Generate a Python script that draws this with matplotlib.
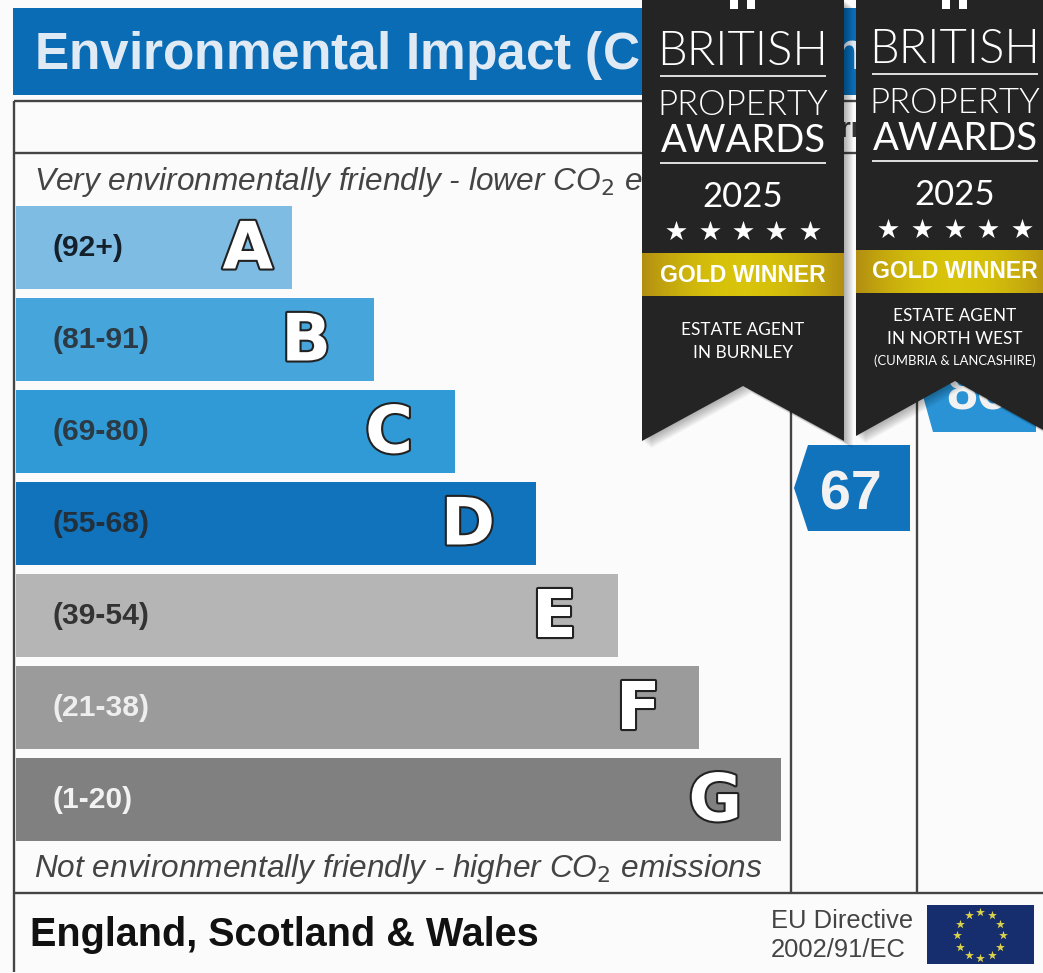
import numpy as np
import matplotlib
matplotlib.use("Agg")
import matplotlib.pyplot as plt
from matplotlib.patches import Rectangle, Polygon
import matplotlib.patheffects as pe

W, H = 1043, 973
bands = ["A", "B", "C", "D", "E", "F", "G"]
ranges = ["(92+)", "(81-91)", "(69-80)", "(55-68)", "(39-54)", "(21-38)", "(1-20)"]
bar_ends = [292, 374, 455, 536, 618, 699, 781]
bar_colors = ["#7fbce3", "#46a6dc", "#2f9ad6", "#1273bd", "#b5b5b5", "#9b9b9b", "#808080"]
range_colors = ["#14202c", "#2b3a44", "#2b3a44", "#22303c", "#333333", "#eeeeee", "#f2f2f2"]
current = 67
potential = 86
column_label = "Current"
badge1 = ["BRITISH", "PROPERTY", "AWARDS", "2025", "GOLD WINNER", "ESTATE AGENT", "IN BURNLEY"]
badge2 = ["BRITISH", "PROPERTY", "AWARDS", "2025", "GOLD WINNER", "ESTATE AGENT", "IN NORTH WEST", "(CUMBRIA & LANCASHIRE)"]

plt.rcParams["font.family"] = ["Liberation Sans", "DejaVu Sans"]
fig = plt.figure(figsize=(W/100, H/100), dpi=100, facecolor="#fbfbfb")
ax = fig.add_axes([0, 0, 1, 1])
ax.set_xlim(0, W); ax.set_ylim(H, 0); ax.axis("off")

def rect(x0, y0, x1, y1, c, z=1, **k):
    ax.add_patch(Rectangle((x0, y0), x1-x0, y1-y0, fc=c, ec="none", zorder=z, **k))
def line(x0, y0, x1, y1, c="#444444", lw=1.7, z=2):
    ax.plot([x0, x1], [y0, y1], color=c, lw=lw, zorder=z, solid_capstyle="butt")

# header and frame
rect(13, 8, 1043, 95, "#0a6cb5")
ax.text(34, 55, "Environmental Impact (CO$_2$) Rating", color="#dfeaf5", fontsize=37, fontweight="bold", va="center", ha="left", zorder=3)
line(14, 101, 1043, 101)
line(14, 153, 1043, 153)
line(14, 101, 14, 972)
line(14, 893, 1043, 893)
line(791, 101, 791, 893)
line(917, 101, 917, 893)
ax.text(854, 130, column_label, color="#333333", fontsize=20, fontweight="bold", ha="center", va="center", zorder=3)

ax.text(34, 182, "Very environmentally friendly - lower CO$_2$ emissions", style="italic", color="#444444", fontsize=22.8, va="center", zorder=3)
ax.text(34, 869, "Not environmentally friendly - higher CO$_2$ emissions", style="italic", color="#444444", fontsize=22.8, va="center", zorder=3)

# bars
tops = [206, 298, 390, 482, 574, 666, 758]
insets = [19, 43, 42, 41, 41, 38, 39]
for i, b in enumerate(bands):
    y0 = tops[i]; y1 = y0 + 83
    rect(16, y0, bar_ends[i], y1, bar_colors[i])
    ax.text(53, (y0+y1)/2+1, ranges[i], color=range_colors[i], fontsize=21.6, fontweight="bold", va="center", zorder=3)
    ax.text(bar_ends[i]-insets[i], (y0+y1)/2+3, b, color="white", fontsize=47, fontweight="bold", family="DejaVu Sans",
            va="center", ha="right", zorder=3, path_effects=[pe.withStroke(linewidth=3, foreground="#222222")])

# current rating arrow
ax.add_patch(Polygon([(794, 488), (808, 445), (910, 445), (910, 531), (808, 531)], fc="#1273bd", ec="none", zorder=3))
ax.text(851, 495, str(current), color="#f2f2f2", fontsize=40, fontweight="bold", ha="center", va="center", zorder=4)
# potential arrow (mostly hidden)
ax.add_patch(Polygon([(921, 389), (933, 346), (1036, 346), (1036, 432), (933, 432)], fc="#2a93d5", ec="none", zorder=3))
ax.text(977, 395, str(potential), color="#f2f2f2", fontsize=40, fontweight="bold", ha="center", va="center", zorder=4)

# footer
ax.text(30, 935, "England, Scotland & Wales", color="#111111", fontsize=28.5, fontweight="bold", va="center", zorder=3)
ax.text(771, 921, "EU Directive", color="#444444", fontsize=18.4, va="center", zorder=3)
ax.text(771, 950, "2002/91/EC", color="#444444", fontsize=18.4, va="center", zorder=3)
rect(927, 905, 1034, 964, "#162d6e")
t = np.arange(12) * np.pi / 6
ax.scatter(980 + 23*np.cos(t), 935 + 23*np.sin(t), marker="*", s=45, c="#dcd34a", zorder=3, linewidths=0)

# award ribbons
def ribbon(x0, x1, yb, ym, lines, off, band_y):
    cx = (x0+x1)/2
    pts = [(x0, 0), (x1, 0), (x1, yb), (cx, ym), (x0, yb)]
    for k in range(1, 10):
        ax.add_patch(Polygon([(x+k, y+k*0.8) for x, y in pts], fc="black", ec="none", alpha=0.035, zorder=4.5))
    ax.add_patch(Polygon(pts, fc="#242424", ec="none", zorder=5))
    for dx in (-13, 4):
        rect(cx+dx, 0, cx+dx+8, 9, "white", z=6)
    lx0, lx1 = cx-83, cx+83
    light = dict(color="white", ha="center", va="center", zorder=6, family="Lato")
    ax.text(cx, 52+off, lines[0], fontsize=34, fontweight=300, **light)
    line(lx0, 76+off, lx1, 76+off, "white", 1.2, 6)
    ax.text(cx, 105+off, lines[1], fontsize=25, fontweight=300, **light)
    ax.text(cx, 141+off, lines[2], fontsize=27.5, fontweight="normal", **light)
    line(lx0, 163+off, lx1, 163+off, "white", 1.2, 6)
    ax.text(cx, 197+off, lines[3], fontsize=25, fontweight="normal", **light)
    ax.scatter(cx + np.arange(-2, 3)*33.3, np.full(5, 231+off), marker="*", s=235, c="white", zorder=6, linewidths=0)
    u = np.abs(np.linspace(-1, 1, 120))[None, :, None]
    c0, c1 = np.array([0.85, 0.77, 0.04]), np.array([0.70, 0.56, 0.07])
    img = c0[None, None, :]*(1-u**2) + c1[None, None, :]*u**2
    ax.imshow(img, extent=(x0, x1, band_y+43, band_y), aspect="auto", zorder=6)
    ax.text(cx, band_y+22, lines[4], color="white", fontsize=16.6, fontweight="bold", ha="center", va="center", zorder=7)
    if len(lines) == 7:
        ax.text(cx, 330, lines[5], fontsize=12.4, **light)
        ax.text(cx, 353, lines[6], fontsize=12.4, **light)
    else:
        ax.text(cx, 316, lines[5], fontsize=12.4, **light)
        ax.text(cx, 339, lines[6], fontsize=12.4, **light)
        ax.text(cx, 361, lines[7], fontsize=9.4, **light)

ribbon(642, 844, 441, 386, badge1, 0, 253)
ribbon(856, 1054, 436, 381, badge2, -2, 250)
ax.set_xlim(0, W); ax.set_ylim(H, 0)

fig.savefig("out.png", dpi=100, facecolor=fig.get_facecolor())
